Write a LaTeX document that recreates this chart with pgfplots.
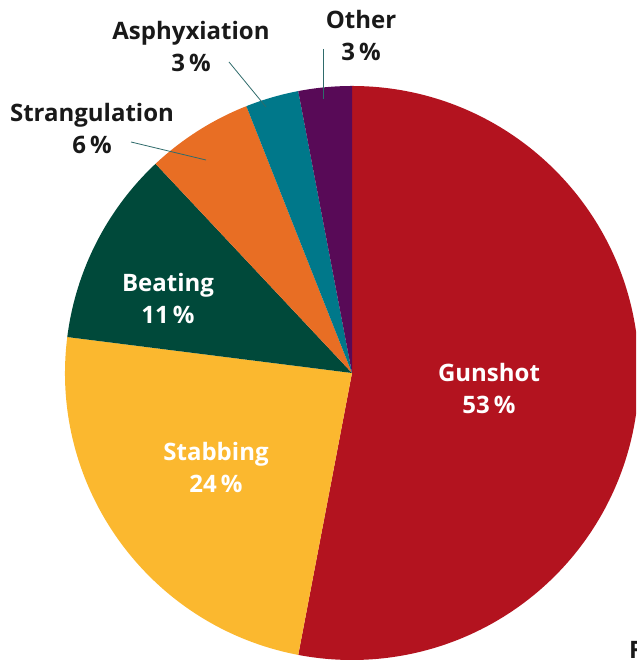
\documentclass[border=0pt]{standalone}
\usepackage{pgfplots}
\pgfplotsset{compat=1.18}
\usepackage{fontspec}
\setmainfont{Open Sans}
\definecolor{gun}{HTML}{B3131F}
\definecolor{stab}{HTML}{FBB82F}
\definecolor{beat}{HTML}{00493A}
\definecolor{strang}{HTML}{E86E24}
\definecolor{asph}{HTML}{00788A}
\definecolor{oth}{HTML}{580A57}
\definecolor{lead}{HTML}{2F6B6B}
\begin{document}
\begin{tikzpicture}[x=1pt,y=1pt]
% shares (percent): Gunshot 53, Stabbing 24, Beating 11, Strangulation 6, Asphyxiation 3, Other 3
% angles start at 90 deg, clockwise, 3.6 deg per percent
\begin{axis}[at={(0,0)},anchor=south west,
  scale only axis, width=636pt, height=660pt,
  xmin=0, xmax=636, ymin=0, ymax=660,
  hide axis, clip mode=global]
\def\R{287pt}
\fill[gun]    (axis cs:352,287) -- ++(90:\R)     arc[start angle=90,     end angle=-100.8, radius=\R] -- cycle;
\fill[stab]   (axis cs:352,287) -- ++(-100.8:\R) arc[start angle=-100.8, end angle=-187.2, radius=\R] -- cycle;
\fill[beat]   (axis cs:352,287) -- ++(-187.2:\R) arc[start angle=-187.2, end angle=-226.8, radius=\R] -- cycle;
\fill[strang] (axis cs:352,287) -- ++(-226.8:\R) arc[start angle=-226.8, end angle=-248.4, radius=\R] -- cycle;
\fill[asph]   (axis cs:352,287) -- ++(-248.4:\R) arc[start angle=-248.4, end angle=-259.2, radius=\R] -- cycle;
\fill[oth]    (axis cs:352,287) -- ++(-259.2:\R) arc[start angle=-259.2, end angle=-270,   radius=\R] -- cycle;
% leader lines
\draw[lead, line width=0.8pt] (axis cs:131,518) -- (axis cs:206,500);
\draw[lead, line width=0.8pt] (axis cs:229,598) -- (axis cs:266,553);
\draw[lead, line width=0.8pt] (axis cs:323,611) -- (axis cs:323,561);
% labels
\tikzset{lab/.style={font=\fontsize{24}{32}\selectfont\bfseries, align=center, inner sep=0pt}}
\node[lab, white] at (axis cs:489,271) {Gunshot\\53\,\%};
\node[lab, white] at (axis cs:216,193) {Stabbing\\24\,\%};
\node[lab, white] at (axis cs:168,362) {Beating\\11\,\%};
\node[lab, black!90] at (axis cs:92,531) {Strangulation\\6\,\%};
\node[lab, black!90] at (axis cs:191,613) {Asphyxiation\\3\,\%};
\node[lab, black!90] at (axis cs:361,624) {Other\\3\,\%};
\node[lab, black!90, anchor=north west] at (axis cs:629,20) {Figure};
\end{axis}
\pgfresetboundingbox
\path[use as bounding box] (0,0) rectangle (636,660);
\end{tikzpicture}
\end{document}
